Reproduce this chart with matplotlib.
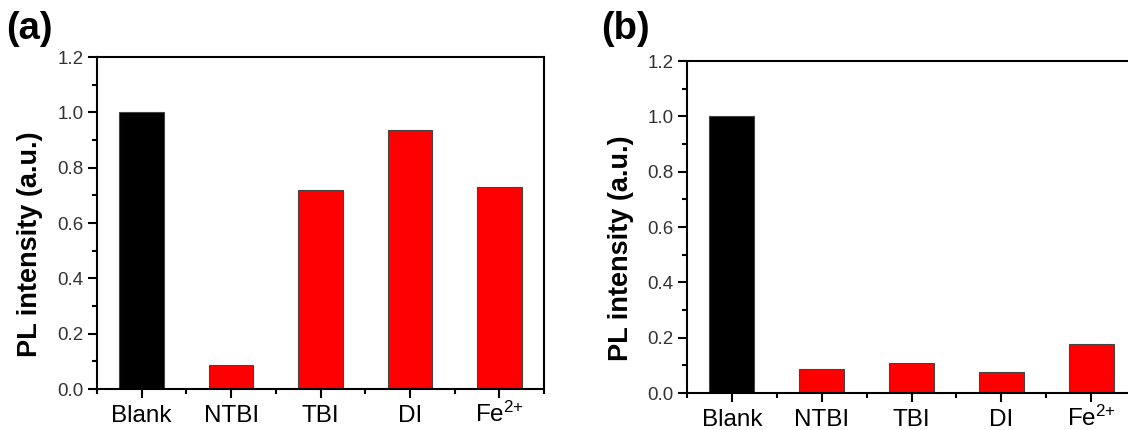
import matplotlib
matplotlib.use("Agg")
import matplotlib.pyplot as plt
from matplotlib.ticker import MultipleLocator, FixedLocator

plt.rcParams["font.family"] = ["Liberation Sans", "DejaVu Sans"]
plt.rcParams["mathtext.fontset"] = "custom"
plt.rcParams["mathtext.rm"] = "Liberation Sans"
plt.rcParams["mathtext.it"] = "Liberation Sans"
plt.rcParams["mathtext.bf"] = "Liberation Sans:bold"

categories = ["Blank", "NTBI", "TBI", "DI", r"Fe$^{2{+}}$"]
values_a = [1.0, 0.087, 0.72, 0.935, 0.729]
values_b = [1.0, 0.088, 0.108, 0.077, 0.176]
bar_colors = ["#000000", "#ff0000", "#ff0000", "#ff0000", "#ff0000"]
y_ticks = [0.0, 0.2, 0.4, 0.6, 0.8, 1.0, 1.2]


def draw_panel(ax, values, label_x, show_right=True):
    xs = list(range(1, len(categories) + 1))
    ax.bar(xs, values, width=0.5, color=bar_colors, edgecolor="#444444", linewidth=0.8, zorder=2)
    ax.set_xlim(0.5, len(categories) + 0.5)
    ax.set_ylim(0.0, 1.2)
    ax.set_xticks(xs)
    ax.set_xticklabels(categories, fontsize=17.5)
    # baseline alignment so "Fe" sits on the same line as the other labels
    for lbl in ax.get_xticklabels():
        lbl.set_verticalalignment("baseline")
    ax.xaxis.set_minor_locator(FixedLocator([x + 0.5 for x in xs[:-1]] + [0.5, len(xs) + 0.5]))
    ax.set_yticks(y_ticks)
    ax.set_yticklabels([f"{v:.1f}" for v in y_ticks], fontsize=13.5, color="#333333")
    ax.yaxis.set_minor_locator(MultipleLocator(0.1))
    ax.tick_params(axis="both", which="major", direction="out", length=6.5, width=1.5)
    ax.tick_params(axis="both", which="minor", direction="out", length=3.5, width=1.5)
    ax.tick_params(axis="y", which="major", pad=3)
    ax.tick_params(axis="x", which="major", pad=17)
    for side in ["left", "bottom", "top", "right"]:
        ax.spines[side].set_linewidth(1.5)
    ax.spines["right"].set_visible(show_right)
    ax.set_ylabel("PL intensity (a.u.)", fontsize=19.5, fontweight="bold")
    ax.yaxis.set_label_coords(label_x, 0.437)


fig = plt.figure(figsize=(11.28, 4.30), dpi=100)

ax_a = fig.add_axes([97 / 1128, 41 / 430, 447 / 1128, 332 / 430])
draw_panel(ax_a, values_a, -0.121)

# right edge of panel (b) runs just past the figure, as in the original crop
ax_b = fig.add_axes([687 / 1128, 37 / 430, 449 / 1128, 332 / 430])
draw_panel(ax_b, values_b, -0.118, show_right=False)

fig.text(6 / 1128, 1 - 11 / 430, "(a)", fontsize=27.5, fontweight="bold", va="top", ha="left")
fig.text(601 / 1128, 1 - 11 / 430, "(b)", fontsize=27.5, fontweight="bold", va="top", ha="left")

fig.savefig("out.png", dpi=100)
